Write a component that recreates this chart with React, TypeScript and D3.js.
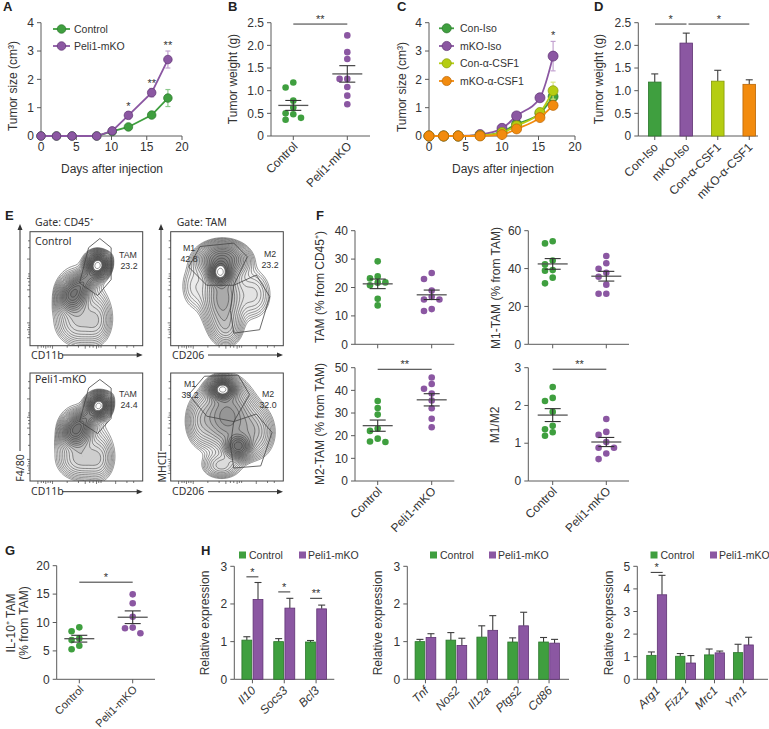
import React from 'react';
import * as d3 from 'd3';

const FONT = "'Liberation Sans', Arial, Helvetica, sans-serif";
const FLOW_FONT = "'Noto Sans', 'DejaVu Sans', sans-serif";

const GREEN = '#3f9f3f', GREEN_D = '#2b752b', GREEN_L = '#8cc98c';
const PURPLE = '#8b57a2', PURPLE_D = '#5f3373', PURPLE_L = '#c3a3d0';
const LIME = '#b5cd12', LIME_D = '#869a08', LIME_L = '#d9e67e';
const ORANGE = '#f28b0e', ORANGE_D = '#b96506', ORANGE_L = '#f8c27e';
const AX = '#5a5a5a';
const TXT = '#333';
const ERR = '#3d3d3d';

// ===== Panel A =====
const daysA = [0, 2.2, 4.4, 7.9, 10.1, 12.4, 15.7, 18];
const controlA = [0, 0, 0, 0, 0.16, 0.32, 0.74, 1.34];
const controlAErr = [0, 0, 0, 0, 0.03, 0.05, 0.08, 0.3];
const peliA = [0, 0, 0, 0, 0.18, 0.73, 1.53, 2.7];
const peliAErr = [0, 0, 0, 0, 0.03, 0.12, 0.15, 0.3];
const starsADay = [12.4, 15.7, 18];
const starsALevel = [0.92, 1.74, 3.06];
const starsAText = ['*', '**', '**'];
const ticksX20 = [0, 5, 10, 15, 20];
const ticksY4 = [0, 1, 2, 3, 4];

// ===== Panel B =====
const groupsCP = ['Control', 'Peli1-mKO'];
const weightControlB = [1.18, 1.07, 0.78, 0.63, 0.5, 0.48, 0.4, 0.36];
const weightPeliB = [2.22, 1.85, 1.7, 1.26, 1.26, 1.08, 0.89, 0.7];
const ticksWeight = [0, 0.5, 1, 1.5, 2, 2.5];

// ===== Panel C =====
const daysC = [0, 2, 4, 7, 10, 12, 15.2, 17];
const conIsoC = [0, 0, 0, 0.02, 0.15, 0.42, 0.8, 1.39];
const conIsoCErr = [0, 0, 0, 0, 0.03, 0.06, 0.1, 0.15];
const mkoIsoC = [0, 0, 0, 0.05, 0.27, 0.71, 1.35, 2.82];
const mkoIsoCErr = [0, 0, 0, 0, 0.04, 0.06, 0.08, 0.52];
const conCsfC = [0, 0, 0, 0.02, 0.12, 0.36, 0.83, 1.6];
const conCsfCErr = [0, 0, 0, 0, 0.03, 0.06, 0.12, 0.3];
const mkoCsfC = [0, 0, 0, 0, 0.05, 0.25, 0.65, 1.08];
const mkoCsfCErr = [0, 0, 0, 0, 0.02, 0.05, 0.08, 0.12];
const legendC = ['Con-Iso', 'mKO-Iso', 'Con-\u03b1-CSF1', 'mKO-\u03b1-CSF1'];
const starsCDay = [17];
const starsCLevel = [3.42];

// ===== Panel D =====
const catsD = ['Con-Iso', 'mKO-Iso', 'Con-\u03b1-CSF1', 'mKO-\u03b1-CSF1'];
const valsD = [1.19, 2.05, 1.21, 1.14];
const errD = [0.18, 0.22, 0.24, 0.1];

// ===== Panel E (flow cytometry) =====
// blob: [u, v, sdU, sdV, weight, angleDeg]
const flowCtrlTam = [
  [0.6, 0.71, 0.05, 0.055, 1.0, 0],
  [0.38, 0.44, 0.07, 0.08, 0.45, 0],
  [0.49, 0.57, 0.14, 0.045, 0.35, 45],
  [0.42, 0.2, 0.12, 0.12, 0.12, 0],
  [0.6, 0.22, 0.07, 0.12, 0.08, 0],
  [0.48, 0.45, 0.16, 0.26, 0.05, 20],
];
const flowPeliTam = [
  [0.61, 0.7, 0.05, 0.055, 1.0, 0],
  [0.41, 0.46, 0.07, 0.08, 0.5, 0],
  [0.5, 0.58, 0.14, 0.045, 0.35, 45],
  [0.44, 0.2, 0.12, 0.11, 0.14, 0],
  [0.62, 0.2, 0.07, 0.12, 0.08, 0],
  [0.5, 0.45, 0.17, 0.26, 0.05, 20],
];
const flowCtrlM = [
  [0.44, 0.64, 0.05, 0.055, 1.0, 0],
  [0.46, 0.76, 0.12, 0.08, 0.5, 0],
  [0.46, 0.42, 0.1, 0.18, 0.3, 0],
  [0.5, 0.14, 0.08, 0.09, 0.1, 0],
  [0.74, 0.45, 0.1, 0.14, 0.1, 0],
  [0.2, 0.52, 0.08, 0.14, 0.07, 0],
];
const flowPeliM = [
  [0.46, 0.85, 0.06, 0.05, 1.0, 0],
  [0.6, 0.32, 0.06, 0.06, 0.6, 0],
  [0.5, 0.6, 0.13, 0.18, 0.35, 0],
  [0.75, 0.45, 0.1, 0.14, 0.15, 0],
  [0.26, 0.55, 0.08, 0.14, 0.1, 0],
  [0.45, 0.14, 0.1, 0.07, 0.12, 0],
];
const gateTam = [[0.44, 0.55], [0.52, 0.86], [0.62, 0.94], [0.72, 0.86], [0.72, 0.58], [0.6, 0.44]];
const gateM1Ctrl = [[0.16, 0.69], [0.26, 0.87], [0.56, 0.9], [0.68, 0.78], [0.56, 0.53], [0.32, 0.53]];
const gateM2Ctrl = [[0.56, 0.53], [0.76, 0.62], [0.88, 0.43], [0.79, 0.14], [0.56, 0.11], [0.53, 0.31]];
const gateM1Peli = [[0.16, 0.8], [0.3, 0.97], [0.6, 0.98], [0.7, 0.8], [0.56, 0.55], [0.32, 0.6]];
const gateM2Peli = [[0.56, 0.55], [0.76, 0.62], [0.9, 0.45], [0.8, 0.14], [0.56, 0.12], [0.53, 0.33]];

// ===== Panel F =====
const tamCtrlF = [29.2, 23.9, 23.2, 21.7, 21.8, 20.8, 16.0, 13.7];
const tamPeliF = [25.1, 23.0, 18.9, 15.8, 15.8, 16.7, 11.7, 12.4];
const m1CtrlF = [54.4, 53.3, 44.2, 42.2, 39.2, 38.9, 35.2, 32.2];
const m1PeliF = [46.6, 42.8, 39.9, 37.8, 35.7, 31.5, 26.7, 26.7];
const m2CtrlF = [35.3, 32.2, 29.3, 23.2, 22.1, 18.7, 17.2, 17.4];
const m2PeliF = [45.7, 42.8, 40.7, 38.6, 35.5, 32.1, 27.5, 23.7];
const ratioCtrlF = [2.49, 2.2, 2.12, 1.83, 1.46, 1.37, 1.29, 1.2];
const ratioPeliF = [1.64, 1.22, 1.3, 1.03, 0.88, 0.88, 0.73, 0.58];

// ===== Panel G =====
const il10CtrlG = [9.15, 8.45, 7.2, 6.9, 5.9, 5.3];
const il10PeliG = [14.96, 13.4, 11.0, 9.1, 9.0, 8.1];

// ===== Panel H =====
const genesH1 = ['Il10', 'Socs3', 'Bcl3'];
const ctrlH1 = [1.04, 1.0, 0.99];
const ctrlH1Err = [0.09, 0.08, 0.04];
const peliH1 = [2.12, 1.89, 1.87];
const peliH1Err = [0.45, 0.26, 0.1];
const sigH1 = ['*', '*', '**'];
const sigH1Level = [2.72, 2.32, 2.15];
const genesH2 = ['Tnf', 'Nos2', 'Il12a', 'Ptgs2', 'Cd86'];
const ctrlH2 = [1.0, 1.04, 1.12, 0.99, 0.99];
const ctrlH2Err = [0.06, 0.2, 0.3, 0.11, 0.12];
const peliH2 = [1.11, 0.9, 1.3, 1.42, 0.96];
const peliH2Err = [0.1, 0.19, 0.39, 0.36, 0.1];
const genesH3 = ['Arg1', 'Fizz1', 'Mrc1', 'Ym1'];
const ctrlH3 = [1.06, 1.02, 1.08, 1.18];
const ctrlH3Err = [0.15, 0.12, 0.26, 0.37];
const peliH3 = [3.74, 0.72, 1.17, 1.52];
const peliH3Err = [0.86, 0.33, 0.08, 0.34];
const sigH3 = ['*', '', '', ''];
const sigH3Level = [4.73, 0, 0, 0];

// ---------------- helpers ----------------
function YAxis({ scale, x, ticks, fmt }: any) {
  const dom = scale.domain();
  return (
    <g>
      <line x1={x} x2={x} y1={scale(dom[0])} y2={scale(dom[1])} stroke={AX} strokeWidth={1} />
      {ticks.map((t: number) => (
        <g key={t}>
          <line x1={x - 4} x2={x} y1={scale(t)} y2={scale(t)} stroke={AX} />
          <text x={x - 7} y={scale(t)} dy="0.35em" textAnchor="end" fontSize={12} fill={TXT}>
            {fmt ? fmt(t) : t}
          </text>
        </g>
      ))}
    </g>
  );
}

function RotLabel({ x, y, text, italic, size = 12 }: any) {
  return (
    <text transform={`translate(${x},${y}) rotate(-45)`} textAnchor="end" fontSize={size} fill={TXT}
      fontStyle={italic ? 'italic' : 'normal'}>
      {text}
    </text>
  );
}

function VLabel({ x, y, text, size = 12 }: any) {
  return (
    <text transform={`translate(${x},${y}) rotate(-90)`} textAnchor="middle" dy="0.35em" fontSize={size} fill={TXT}>
      {text}
    </text>
  );
}

function SigBar({ x1, x2, y, t }: any) {
  return (
    <g>
      <line x1={x1} x2={x2} y1={y} y2={y} stroke="#333" strokeWidth={1} />
      <text x={(x1 + x2) / 2} y={y - 1} textAnchor="middle" fontSize={11} fill="#333">{t}</text>
    </g>
  );
}

function swarm(values: number[], ys: any, cx: number) {
  const dx = 7.7, minSep = 6;
  const order = values.map((_, i) => i).sort((a, b) => values[b] - values[a]);
  const placed: any[] = [];
  const out: any[] = new Array(values.length);
  const cand = [0, -1, 1, -2, 2, -3, 3];
  for (const i of order) {
    const yy = ys(values[i]);
    for (const c of cand) {
      if (placed.every((p) => p.col !== c || Math.abs(p.y - yy) >= minSep)) {
        placed.push({ col: c, y: yy });
        out[i] = { x: cx + c * dx, y: yy };
        break;
      }
    }
  }
  return out;
}

function DotPlot({ axisX, axisEnd, ys, ticks, fmt, groups, centers, showLabels, sig, labelSize = 12 }: any) {
  const y0 = ys(0);
  return (
    <g>
      <YAxis scale={ys} x={axisX} ticks={ticks} fmt={fmt} />
      <line x1={axisX} x2={axisEnd} y1={y0} y2={y0} stroke={AX} />
      {groups.map((g: any, gi: number) => {
        const cx = centers[gi];
        const pts = swarm(g.values, ys, cx);
        const mean = d3.mean(g.values) as number;
        const sem = (d3.deviation(g.values) as number) / Math.sqrt(g.values.length);
        return (
          <g key={gi}>
            <line x1={cx} x2={cx} y1={y0} y2={y0 + 4} stroke={AX} />
            {pts.map((p: any, i: number) => (
              <circle key={i} cx={p.x} cy={p.y} r={3.3} fill={g.color} />
            ))}
            <line x1={cx - 15} x2={cx + 15} y1={ys(mean)} y2={ys(mean)} stroke="#555" strokeWidth={1.3} />
            <line x1={cx} x2={cx} y1={ys(mean - sem)} y2={ys(mean + sem)} stroke="#333" strokeWidth={1.1} />
            <line x1={cx - 8} x2={cx + 8} y1={ys(mean + sem)} y2={ys(mean + sem)} stroke="#333" strokeWidth={1.1} />
            <line x1={cx - 8} x2={cx + 8} y1={ys(mean - sem)} y2={ys(mean - sem)} stroke="#333" strokeWidth={1.1} />
            {showLabels && <RotLabel x={cx + 5} y={y0 + 11} text={g.name} size={labelSize} />}
          </g>
        );
      })}
      {sig && <SigBar x1={centers[0]} x2={centers[1]} y={ys(sig.level)} t={sig.t} />}
    </g>
  );
}

function LineChart({ x0, x1, series, r, curve, starsDay, starsLevel, starsText }: any) {
  const xs = d3.scaleLinear().domain([0, 20]).range([x0, x1]);
  const ys = d3.scaleLinear().domain([0, 4]).range([136, 22.7]);
  const line = d3.line<any>().x((d) => xs(d[0])).y((d) => ys(d[1])).curve(curve);
  return (
    <g>
      <YAxis scale={ys} x={x0} ticks={ticksY4} />
      <line x1={x0} x2={x1} y1={ys(0)} y2={ys(0)} stroke={AX} />
      {ticksX20.map((t) => (
        <g key={t}>
          <line x1={xs(t)} x2={xs(t)} y1={ys(0)} y2={ys(0) + 4} stroke={AX} />
          <text x={xs(t)} y={ys(0) + 15} textAnchor="middle" fontSize={12} fill={TXT}>{t}</text>
        </g>
      ))}
      {series.map((s: any, si: number) => (
        <g key={si}>
          {s.err.map((e: number, i: number) =>
            e > 0 ? (
              <g key={i} stroke={s.light} strokeWidth={1.2}>
                <line x1={xs(s.x[i])} x2={xs(s.x[i])} y1={ys(s.y[i] - e)} y2={ys(s.y[i] + e)} />
                <line x1={xs(s.x[i]) - 2.5} x2={xs(s.x[i]) + 2.5} y1={ys(s.y[i] + e)} y2={ys(s.y[i] + e)} />
                <line x1={xs(s.x[i]) - 2.5} x2={xs(s.x[i]) + 2.5} y1={ys(s.y[i] - e)} y2={ys(s.y[i] - e)} />
              </g>
            ) : null
          )}
          <path d={line(s.x.map((x: number, i: number) => [x, s.y[i]])) as string} fill="none" stroke={s.color} strokeWidth={1.8} />
          {s.x.map((x: number, i: number) => (
            <circle key={i} cx={xs(x)} cy={ys(s.y[i])} r={r} fill={s.color} stroke={s.dark} strokeWidth={0.7} />
          ))}
        </g>
      ))}
      {starsDay.map((d: number, i: number) => (
        <text key={i} x={xs(d)} y={ys(starsLevel[i])} textAnchor="middle" fontSize={11} fill="#333">{starsText[i]}</text>
      ))}
    </g>
  );
}

function BarPanel({ axisX, axisEnd, range, pad, innerPad, cats, series, ys, ticks, fmt, italic, sigText, sigLevel }: any) {
  const xb = d3.scaleBand().domain(cats).range(range).paddingInner(pad).paddingOuter(pad / 2);
  const keys = series.map((_: any, i: number) => String(i));
  const xi = d3.scaleBand().domain(keys).range([0, xb.bandwidth()]).paddingInner(innerPad);
  const y0 = ys(0);
  return (
    <g>
      <YAxis scale={ys} x={axisX} ticks={ticks} fmt={fmt} />
      <line x1={axisX} x2={axisEnd} y1={y0} y2={y0} stroke={AX} />
      {cats.map((c: string, ci: number) => {
        const gx = xb(c) as number;
        const cx = gx + xb.bandwidth() / 2;
        return (
          <g key={c}>
            {series.map((s: any, si: number) => {
              const bx = gx + (xi(String(si)) as number);
              const bw = xi.bandwidth();
              const v = s.vals[ci];
              const e = s.errs[ci];
              const mx = bx + bw / 2;
              return (
                <g key={si}>
                  <line x1={mx} x2={mx} y1={ys(v)} y2={ys(v + e)} stroke={ERR} strokeWidth={1.1} />
                  <line x1={mx - 3.5} x2={mx + 3.5} y1={ys(v + e)} y2={ys(v + e)} stroke={ERR} strokeWidth={1.1} />
                  <rect x={bx} y={ys(v)} width={bw} height={y0 - ys(v)} fill={s.colors ? s.colors[ci] : s.color}
                    stroke={s.darks ? s.darks[ci] : s.dark} strokeWidth={0.8} />
                </g>
              );
            })}
            <line x1={cx} x2={cx} y1={y0} y2={y0 + 4} stroke={AX} />
            <RotLabel x={cx + 4} y={y0 + 12} text={c} italic={italic} />
            {sigText && sigText[ci] ? (
              <SigBar x1={cx - 6} x2={cx + 6} y={ys(sigLevel[ci])} t={sigText[ci]} />
            ) : null}
          </g>
        );
      })}
    </g>
  );
}

function FlowPlot({ x, y, w, h, blobs, gates }: any) {
  const n = 80;
  const vals = new Array(n * n);
  for (let j = 0; j < n; j++) {
    for (let i = 0; i < n; i++) {
      const u = (i + 0.5) / n;
      const v = 1 - (j + 0.5) / n;
      let s = 0;
      for (const b of blobs) {
        const a = ((b[5] || 0) * Math.PI) / 180;
        const du = u - b[0], dv = v - b[1];
        const p = du * Math.cos(a) + dv * Math.sin(a);
        const q = -du * Math.sin(a) + dv * Math.cos(a);
        s += b[4] * Math.exp(-(p * p) / (2 * b[2] * b[2]) - (q * q) / (2 * b[3] * b[3]));
      }
      vals[j * n + i] = s;
    }
  }
  const mx = d3.max(vals) as number;
  const nl = 22;
  const thr = d3.range(nl).map((k) => mx * 0.028 * Math.pow(0.9 / 0.028, k / (nl - 1)));
  const cs = d3.contours().size([n, n]).thresholds(thr)(vals);
  const tr = d3.geoTransform({
    point(px: number, py: number) {
      (this as any).stream.point(x + (px / n) * w, y + (py / n) * h);
    },
  });
  const path = d3.geoPath(tr as any);
  const id = `clip${Math.round(x)}_${Math.round(y)}`;
  const gx = (u: number) => x + u * w;
  const gy = (v: number) => y + (1 - v) * h;
  const minorU = [0.07, 0.1, 0.12, 0.14, 0.16, 0.18, 0.2, 0.33, 0.43, 0.49, 0.53, 0.56, 0.59, 0.61, 0.63, 0.76, 0.86, 0.92];
  return (
    <g>
      <defs>
        <clipPath id={id}>
          <rect x={x} y={y} width={w} height={h} />
        </clipPath>
      </defs>
      <g clipPath={`url(#${id})`}>
        {cs.map((c: any, i: number) => (
          <path key={i} d={path(c) as string}
            fill={i >= nl - 2 ? '#fff' : '#000'} fillOpacity={i >= nl - 2 ? 1 : i > 8 ? 0.06 : 0.015}
            stroke="#2a2a2a" strokeWidth={0.55} strokeOpacity={0.9} />
        ))}
        {gates.map((g: any, gi: number) => (
          <path key={gi} d={(d3.line()(g.map((p: number[]) => [gx(p[0]), gy(p[1])])) as string) + 'Z'}
            fill="none" stroke="#444" strokeWidth={0.8} />
        ))}
      </g>
      <rect x={x} y={y} width={w} height={h} fill="none" stroke="#444" strokeWidth={1} />
      {minorU.map((u, i) => (
        <g key={i} stroke="#444" strokeWidth={0.7}>
          <line x1={x + u * w} x2={x + u * w} y1={y + h} y2={y + h + (i % 3 === 0 ? 3 : 2)} />
          <line x1={x} x2={x - (i % 3 === 0 ? 3 : 2)} y1={y + h - u * h} y2={y + h - u * h} />
        </g>
      ))}
    </g>
  );
}

function HArrow({ x1, x2, y }: any) {
  return (
    <g>
      <line x1={x1} x2={x2 - 5} y1={y} y2={y} stroke="#333" strokeWidth={1} />
      <path d={`M${x2},${y} L${x2 - 6},${y - 2.5} L${x2 - 6},${y + 2.5} Z`} fill="#333" />
    </g>
  );
}
function VArrow({ x, y1, y2 }: any) {
  return (
    <g>
      <line x1={x} x2={x} y1={y1 + 5} y2={y2} stroke="#333" strokeWidth={1} />
      <path d={`M${x},${y1} L${x - 2.5},${y1 + 6} L${x + 2.5},${y1 + 6} Z`} fill="#333" />
    </g>
  );
}

function Legend2({ x1, x2, y }: any) {
  return (
    <g fontSize={10.5} fill={TXT}>
      <rect x={x1} y={y - 3.5} width={7} height={7} fill={GREEN} />
      <text x={x1 + 10} y={y} dy="0.35em">Control</text>
      <rect x={x2} y={y - 3.5} width={7} height={7} fill={PURPLE} />
      <text x={x2 + 9} y={y} dy="0.35em">Peli1-mKO</text>
    </g>
  );
}

export default function App() {
  const fmtW = (t: number) => (t === 0 ? '0' : t.toFixed(1));

  const ysB = d3.scaleLinear().domain([0, 2.5]).range([136, 22.7]);
  const ysD = d3.scaleLinear().domain([0, 2.5]).range([136, 22.7]);
  const ysF1 = d3.scaleLinear().domain([0, 40]).range([344.3, 230.7]);
  const ysF2 = d3.scaleLinear().domain([0, 60]).range([344.3, 230.7]);
  const ysF3 = d3.scaleLinear().domain([0, 50]).range([481, 367.7]);
  const ysF4 = d3.scaleLinear().domain([0, 3]).range([481, 367.7]);
  const ysG = d3.scaleLinear().domain([0, 20]).range([679.3, 565.7]);
  const ysH12 = d3.scaleLinear().domain([0, 3]).range([679.3, 566.3]);
  const ysH3 = d3.scaleLinear().domain([0, 5]).range([679.3, 566.3]);

  const seriesA = [
    { x: daysA, y: controlA, err: controlAErr, color: GREEN, dark: GREEN_D, light: GREEN_L },
    { x: daysA, y: peliA, err: peliAErr, color: PURPLE, dark: PURPLE_D, light: PURPLE_L },
  ];
  const seriesC = [
    { x: daysC, y: conIsoC, err: conIsoCErr, color: GREEN, dark: GREEN_D, light: GREEN_L },
    { x: daysC, y: mkoIsoC, err: mkoIsoCErr, color: PURPLE, dark: PURPLE_D, light: PURPLE_L },
    { x: daysC, y: conCsfC, err: conCsfCErr, color: LIME, dark: LIME_D, light: LIME_L },
    { x: daysC, y: mkoCsfC, err: mkoCsfCErr, color: ORANGE, dark: ORANGE_D, light: ORANGE_L },
  ];
  const legendColorsC = [[GREEN, GREEN_D], [PURPLE, PURPLE_D], [LIME, LIME_D], [ORANGE, ORANGE_D]];
  const legendYC = [28.3, 46, 63.3, 81];

  return (
    <svg width={769} height={729} style={{ position: 'absolute', left: 0, top: 0, background: '#fff' }}
      fontFamily={FONT}>
      <rect x={0} y={0} width={769} height={729} fill="#fff" />
      <g fontWeight="bold" fontSize={13} fill="#222">
        <text x={3} y={11}>A</text>
        <text x={228} y={11}>B</text>
        <text x={397} y={11}>C</text>
        <text x={594} y={11}>D</text>
        <text x={5} y={220}>E</text>
        <text x={316} y={220}>F</text>
        <text x={5} y={555}>G</text>
        <text x={201} y={555}>H</text>
      </g>

      {/* ===== A ===== */}
      <LineChart x0={41} x1={182} series={seriesA} r={4.3} curve={d3.curveLinear}
        starsDay={starsADay} starsLevel={starsALevel} starsText={starsAText} />
      <VLabel x={13} y={86} text="Tumor size (cm³)" />
      <text x={112} y={173} textAnchor="middle" fontSize={12} fill={TXT}>Days after injection</text>
      {[0, 1].map((i) => (
        <g key={i}>
          <line x1={53} x2={70} y1={29 + i * 17} y2={29 + i * 17} stroke={seriesA[i].color} strokeWidth={1.8} />
          <circle cx={61.5} cy={29 + i * 17} r={4.3} fill={seriesA[i].color} stroke={seriesA[i].dark} strokeWidth={0.7} />
          <text x={74} y={29 + i * 17} dy="0.35em" fontSize={10.5} fill={TXT}>{groupsCP[i]}</text>
        </g>
      ))}

      {/* ===== B ===== */}
      <DotPlot axisX={271} axisEnd={370} ys={ysB} ticks={ticksWeight} fmt={fmtW} centers={[293.3, 347.3]} showLabels
        groups={[{ values: weightControlB, color: GREEN, name: groupsCP[0] }, { values: weightPeliB, color: PURPLE, name: groupsCP[1] }]}
        sig={{ level: 2.47, t: '**' }} />
      <VLabel x={232.5} y={79} text="Tumor weight (g)" />

      {/* ===== C ===== */}
      <LineChart x0={429} x1={575} series={seriesC} r={5} curve={d3.curveMonotoneX}
        starsDay={starsCDay} starsLevel={starsCLevel} starsText={['*']} />
      <VLabel x={402} y={87} text="Tumor size (cm³)" />
      <text x={503} y={173} textAnchor="middle" fontSize={12} fill={TXT}>Days after injection</text>
      {legendC.map((l, i) => (
        <g key={i}>
          <line x1={439} x2={454} y1={legendYC[i]} y2={legendYC[i]} stroke={legendColorsC[i][0]} strokeWidth={1.8} />
          <circle cx={446.7} cy={legendYC[i]} r={4.6} fill={legendColorsC[i][0]} stroke={legendColorsC[i][1]} strokeWidth={0.7} />
          <text x={460} y={legendYC[i]} dy="0.35em" fontSize={10.5} fill={TXT}>{l}</text>
        </g>
      ))}

      {/* ===== D ===== */}
      <BarPanel axisX={638.3} axisEnd={758} range={[639, 765]} pad={0.6} innerPad={0} cats={catsD}
        series={[{ vals: valsD, errs: errD, colors: [GREEN, PURPLE, LIME, ORANGE], darks: [GREEN_D, PURPLE_D, LIME_D, ORANGE_D] }]}
        ys={ysD} ticks={ticksWeight} fmt={fmtW} />
      <VLabel x={599} y={79} text="Tumor weight (g)" />
      <SigBar x1={655} x2={686.5} y={ysD(2.47)} t="*" />
      <SigBar x1={688.5} x2={749.3} y={ysD(2.47)} t="*" />

      {/* ===== E ===== */}
      <g fontFamily={FLOW_FONT} fill="#333">
        <text x={35} y={225.5} fontSize={10.5}>Gate: CD45⁺</text>
        <text x={176.7} y={225.5} fontSize={10.5}>Gate: TAM</text>
        <FlowPlot x={30} y={231.7} w={112.7} h={114} blobs={flowCtrlTam} gates={[gateTam]} />
        <FlowPlot x={170.7} y={231.7} w={112.6} h={114} blobs={flowCtrlM} gates={[gateM1Ctrl, gateM2Ctrl]} />
        <FlowPlot x={30} y={373} w={112.7} h={108} blobs={flowPeliTam} gates={[gateTam]} />
        <FlowPlot x={170.7} y={373} w={112.6} h={108} blobs={flowPeliM} gates={[gateM1Peli, gateM2Peli]} />
        <text x={35} y={245} fontSize={10.5}>Control</text>
        <text x={35} y={383} fontSize={10.5}>Peli1-mKO</text>
        <g fontFamily={FONT} fontSize={8.8} textAnchor="middle">
          <text x={128} y={257.5}>TAM</text>
          <text x={129} y={268.5}>23.2</text>
          <text x={189} y={250.5}>M1</text>
          <text x={189} y={261.5}>42.8</text>
          <text x={270} y={256.5}>M2</text>
          <text x={270} y={267.5}>23.2</text>
          <text x={128} y={396.5}>TAM</text>
          <text x={129} y={407.5}>24.4</text>
          <text x={190} y={386.5}>M1</text>
          <text x={190} y={397.5}>39.2</text>
          <text x={268} y={396.5}>M2</text>
          <text x={268} y={407.5}>32.0</text>
        </g>
        <text x={31} y={358.5} fontSize={10.5}>CD11b</text>
        <HArrow x1={62} x2={142.7} y={355} />
        <text x={172} y={358.5} fontSize={10.5}>CD206</text>
        <HArrow x1={208} x2={283} y={355} />
        <text x={31} y={495} fontSize={10.5}>CD11b</text>
        <HArrow x1={62} x2={142.7} y={491.7} />
        <text x={172} y={495} fontSize={10.5}>CD206</text>
        <HArrow x1={208} x2={283} y={491.7} />
        <VArrow x={20} y1={224} y2={451} />
        <VArrow x={161} y1={224} y2={451} />
        <text transform="translate(20,468) rotate(-90)" textAnchor="middle" dy="0.35em" fontSize={10.5}>F4/80</text>
        <text transform="translate(162,467) rotate(-90)" textAnchor="middle" dy="0.35em" fontSize={10.5}>MHCII</text>
      </g>

      {/* ===== F ===== */}
      <DotPlot axisX={355} axisEnd={454.3} ys={ysF1} ticks={[0, 10, 20, 30, 40]} centers={[377.7, 431.7]}
        groups={[{ values: tamCtrlF, color: GREEN }, { values: tamPeliF, color: PURPLE }]} />
      <VLabel x={320} y={287} text="TAM (% from CD45⁺)" />
      <DotPlot axisX={528.3} axisEnd={629} ys={ysF2} ticks={[0, 20, 40, 60]} centers={[552.7, 606.3]}
        groups={[{ values: m1CtrlF, color: GREEN }, { values: m1PeliF, color: PURPLE }]} />
      <VLabel x={496} y={288} text="M1-TAM (% from TAM)" />
      <DotPlot axisX={355} axisEnd={454.3} ys={ysF3} ticks={[0, 10, 20, 30, 40, 50]} centers={[377.7, 431.7]} showLabels
        groups={[{ values: m2CtrlF, color: GREEN, name: groupsCP[0] }, { values: m2PeliF, color: PURPLE, name: groupsCP[1] }]}
        sig={{ level: 49.3, t: '**' }} />
      <VLabel x={320} y={424} text="M2-TAM (% from TAM)" />
      <DotPlot axisX={528.3} axisEnd={629} ys={ysF4} ticks={[0, 1, 2, 3]} centers={[552.7, 606.3]} showLabels
        groups={[{ values: ratioCtrlF, color: GREEN, name: groupsCP[0] }, { values: ratioPeliF, color: PURPLE, name: groupsCP[1] }]}
        sig={{ level: 2.96, t: '**' }} />
      <VLabel x={495} y={425} text="M1/M2" />

      {/* ===== G ===== */}
      <DotPlot axisX={56.7} axisEnd={155} ys={ysG} ticks={[0, 5, 10, 15, 20]} centers={[79.3, 132.7]} showLabels labelSize={11}
        groups={[{ values: il10CtrlG, color: GREEN, name: groupsCP[0] }, { values: il10PeliG, color: PURPLE, name: groupsCP[1] }]}
        sig={{ level: 17.1, t: '*' }} />
      <text transform="translate(11,623) rotate(-90)" textAnchor="middle" dy="0.35em" fontSize={12} fill={TXT}>IL-10⁺ TAM</text>
      <text transform="translate(24,623) rotate(-90)" textAnchor="middle" dy="0.35em" fontSize={12} fill={TXT}>(% from TAM)</text>

      {/* ===== H ===== */}
      <Legend2 x1={239} x2={299} y={555} />
      <Legend2 x1={430} x2={489} y={555} />
      <Legend2 x1={650.5} x2={710} y={555} />
      <BarPanel axisX={234.3} axisEnd={334.3} range={[236.5, 332]} pad={0.34} innerPad={0.12} cats={genesH1} italic
        series={[{ vals: ctrlH1, errs: ctrlH1Err, color: GREEN, dark: GREEN_D }, { vals: peliH1, errs: peliH1Err, color: PURPLE, dark: PURPLE_D }]}
        ys={ysH12} ticks={[0, 1, 2, 3]} sigText={sigH1} sigLevel={sigH1Level} />
      <VLabel x={205} y={623} text="Relative expression" />
      <BarPanel axisX={407.3} axisEnd={569} range={[410, 564.5]} pad={0.33} innerPad={0.12} cats={genesH2} italic
        series={[{ vals: ctrlH2, errs: ctrlH2Err, color: GREEN, dark: GREEN_D }, { vals: peliH2, errs: peliH2Err, color: PURPLE, dark: PURPLE_D }]}
        ys={ysH12} ticks={[0, 1, 2, 3]} />
      <VLabel x={378} y={623} text="Relative expression" />
      <BarPanel axisX={637.3} axisEnd={768} range={[642.25, 757.8]} pad={0.31} innerPad={0.12} cats={genesH3} italic
        series={[{ vals: ctrlH3, errs: ctrlH3Err, color: GREEN, dark: GREEN_D }, { vals: peliH3, errs: peliH3Err, color: PURPLE, dark: PURPLE_D }]}
        ys={ysH3} ticks={[0, 1, 2, 3, 4, 5]} sigText={sigH3} sigLevel={sigH3Level} />
      <VLabel x={608.5} y={623} text="Relative expression" />
    </svg>
  );
}
